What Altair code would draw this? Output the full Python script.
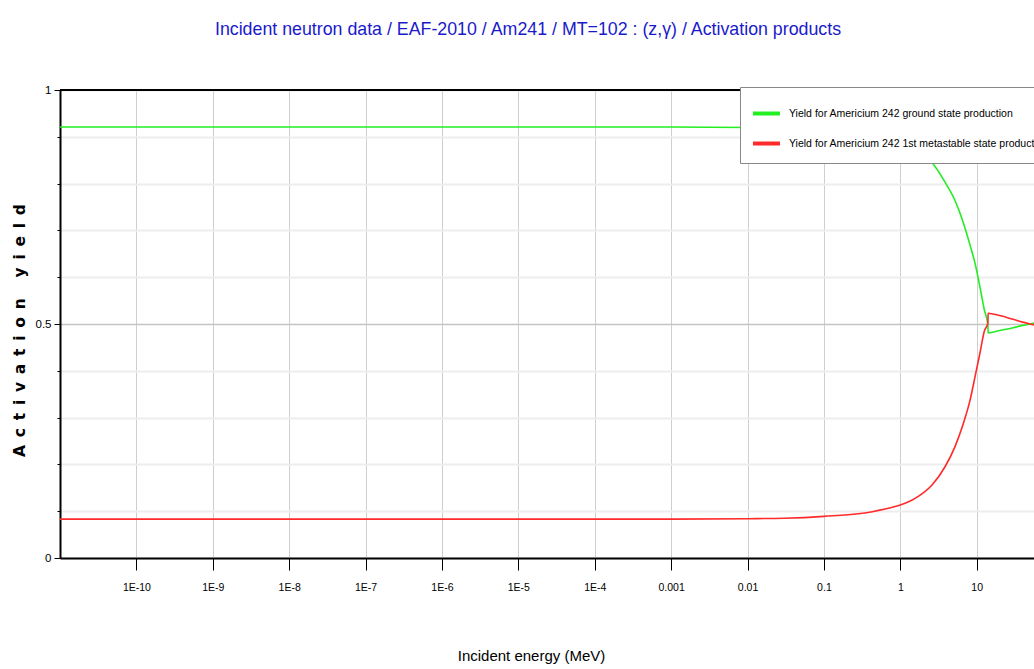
import altair as alt
import pandas as pd

# ---- data ----
energy = [1e-11, 1e-8, 1e-5, 1e-3, 0.01, 0.03, 0.1, 0.43, 0.72, 1.0, 1.7, 2.6, 3.85,
          5.2, 6.7, 8.2, 9.5, 11.0, 12.6, 14.0, 14.1, 20.0, 30.0, 40.0, 50.0, 60.0]
ground = [0.921, 0.921, 0.921, 0.921, 0.920, 0.919, 0.914, 0.902, 0.894, 0.887, 0.870,
          0.845, 0.803, 0.764, 0.716, 0.668, 0.630, 0.580, 0.530, 0.498, 0.481, 0.486,
          0.492, 0.497, 0.500, 0.503]
meta = [0.083, 0.083, 0.083, 0.083, 0.084, 0.085, 0.089, 0.099, 0.107, 0.113, 0.131,
        0.156, 0.195, 0.238, 0.288, 0.338, 0.387, 0.437, 0.485, 0.502, 0.523, 0.518,
        0.510, 0.504, 0.500, 0.497]

series_names = ["Yield for Americium 242 ground state production",
                "Yield for Americium 242 1st metastable state production"]
series_colors = ["#22ee22", "#ff2a2a"]

x_ticks = [1e-10, 1e-9, 1e-8, 1e-7, 1e-6, 1e-5, 1e-4, 1e-3, 1e-2, 1e-1, 1, 10]
y_ticks = [0, 0.1, 0.2, 0.3, 0.4, 0.5, 0.6, 0.7, 0.8, 0.9, 1]
y_labelled = [0, 0.5, 1]

title_text = "Incident neutron data / EAF-2010 / Am241 / MT=102 : (z,\u03b3) / Activation products"
x_title = "Incident energy (MeV)"
y_title = "Activation yield"

FONT = "Liberation Sans, Arial, sans-serif"

rows = []
for e, g, m in zip(energy, ground, meta):
    rows.append({"E": e, "y": g, "s": series_names[0]})
    rows.append({"E": e, "y": m, "s": series_names[1]})
df = pd.DataFrame(rows)

xscale = alt.Scale(type="log", domain=[1e-11, 10 ** 1.75])
yscale = alt.Scale(domain=[0, 1])

label_test = " || ".join(f"datum.value == {v}" for v in y_labelled)
# the reference draws the y title with wide letter spacing
y_title_spaced = "\u2002".join(list(y_title))

lines = alt.Chart(df).mark_line(strokeWidth=1.6, clip=True, interpolate="monotone").encode(
    x=alt.X("E:Q", scale=xscale,
            axis=alt.Axis(values=x_ticks,
                          labelExpr="datum.value < 0.0005 ? '1E' + round(log(datum.value)/LN10) : format(datum.value, '~g')",
                          title=x_title,
                          titleFont=FONT, titleFontSize=15, titleFontWeight="normal",
                          titleColor="black",
                          titleX=471, titleY=97, titleAlign="center", titleBaseline="middle",
                          labelFont=FONT, labelFontSize=10.5, labelColor="black",
                          labelPadding=12, tickSize=12, tickColor="black", tickWidth=1,
                          domainColor="black", domainWidth=2,
                          grid=True, gridColor="#cfcfcf", gridWidth=1)),
    y=alt.Y("y:Q", scale=yscale,
            axis=alt.Axis(values=y_ticks,
                          labelExpr=f"({label_test}) ? format(datum.value, '~g') : ''",
                          title=y_title_spaced,
                          titleFont="DejaVu Sans", titleFontSize=15.5, titleFontWeight="bold",
                          titleColor="black", titleAngle=270,
                          titleX=-41, titleY=240, titleAlign="center", titleBaseline="middle",
                          labelFont=FONT, labelFontSize=11.5, labelColor="black",
                          labelPadding=3,
                          tickSize={"condition": {"test": label_test, "value": 6}, "value": 3},
                          tickColor="black", tickWidth=1,
                          domainColor="black", domainWidth=2,
                          grid=True,
                          gridColor={"condition": {"test": "datum.value == 0.5", "value": "#c4c4c4"},
                                     "value": "#ededed"},
                          gridWidth={"condition": {"test": "datum.value == 0.5", "value": 1.5},
                                     "value": 2})),
    color=alt.Color("s:N", scale=alt.Scale(domain=series_names, range=series_colors),
                    legend=alt.Legend(title=None, orient="none", legendX=680, legendY=-3,
                                      symbolType="stroke", symbolStrokeWidth=4, symbolSize=729,
                                      labelFont=FONT, labelFontSize=10.5, labelColor="black",
                                      labelLimit=400, labelOffset=7, rowPadding=6,
                                      padding=11, strokeColor="#888888", fillColor="white",
                                      cornerRadius=0))
)

top = alt.Chart(pd.DataFrame({"v": [1]})).mark_rule(color="black", strokeWidth=2).encode(
    y=alt.Y("v:Q", scale=yscale)
)

chart = alt.layer(lines, top).properties(
    width=974, height=468,
    padding={"left": 60, "top": 90, "right": 0, "bottom": 111},
    autosize=alt.AutoSizeParams(type="none"),
    title=alt.TitleParams(title_text, font=FONT, fontSize=17.8, fontWeight="normal",
                          color="#1a1acc", anchor="middle", offset=45, dx=-19),
).configure_view(stroke=None).configure(background="white")

chart.save("out.html", embed_options={"renderer": "svg", "actions": False})
